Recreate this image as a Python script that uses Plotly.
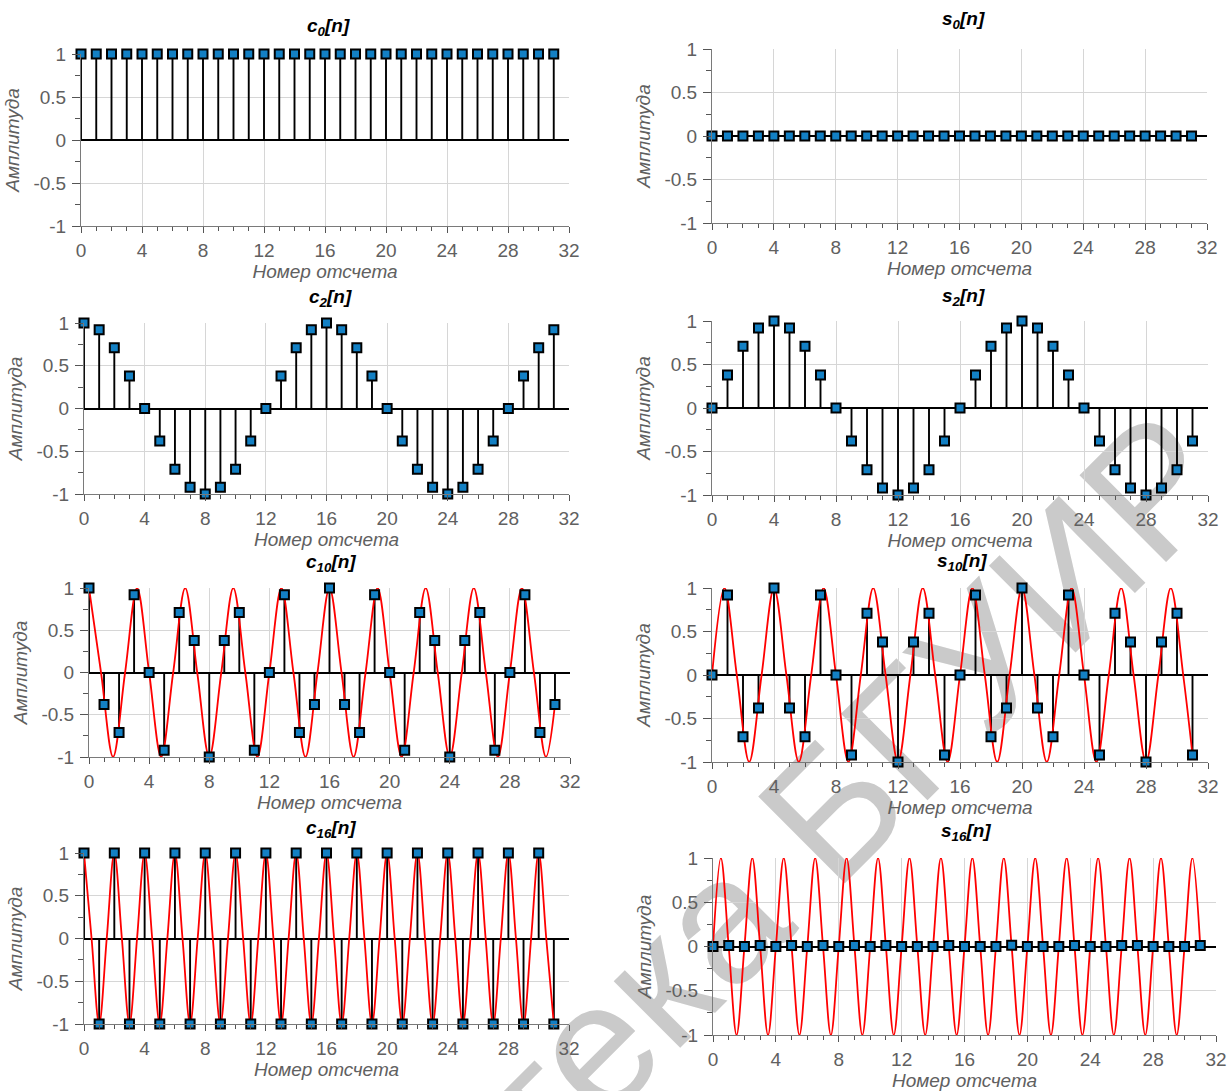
import plotly.graph_objects as go

# ---------------- data ----------------
n = [0, 1, 2, 3, 4, 5, 6, 7, 8, 9, 10, 11, 12, 13, 14, 15,
     16, 17, 18, 19, 20, 21, 22, 23, 24, 25, 26, 27, 28, 29, 30, 31]

c0 = [1, 1, 1, 1, 1, 1, 1, 1, 1, 1, 1, 1, 1, 1, 1, 1,
      1, 1, 1, 1, 1, 1, 1, 1, 1, 1, 1, 1, 1, 1, 1, 1]
s0 = [0, 0, 0, 0, 0, 0, 0, 0, 0, 0, 0, 0, 0, 0, 0, 0,
      0, 0, 0, 0, 0, 0, 0, 0, 0, 0, 0, 0, 0, 0, 0, 0]
c2 = [1, 0.92, 0.71, 0.38, 0, -0.38, -0.71, -0.92, -1, -0.92, -0.71, -0.38, 0, 0.38, 0.71, 0.92,
      1, 0.92, 0.71, 0.38, 0, -0.38, -0.71, -0.92, -1, -0.92, -0.71, -0.38, 0, 0.38, 0.71, 0.92]
s2 = [0, 0.38, 0.71, 0.92, 1, 0.92, 0.71, 0.38, 0, -0.38, -0.71, -0.92, -1, -0.92, -0.71, -0.38,
      0, 0.38, 0.71, 0.92, 1, 0.92, 0.71, 0.38, 0, -0.38, -0.71, -0.92, -1, -0.92, -0.71, -0.38]
c10 = [1, -0.38, -0.71, 0.92, 0, -0.92, 0.71, 0.38, -1, 0.38, 0.71, -0.92, 0, 0.92, -0.71, -0.38,
       1, -0.38, -0.71, 0.92, 0, -0.92, 0.71, 0.38, -1, 0.38, 0.71, -0.92, 0, 0.92, -0.71, -0.38]
s10 = [0, 0.92, -0.71, -0.38, 1, -0.38, -0.71, 0.92, 0, -0.92, 0.71, 0.38, -1, 0.38, 0.71, -0.92,
       0, 0.92, -0.71, -0.38, 1, -0.38, -0.71, 0.92, 0, -0.92, 0.71, 0.38, -1, 0.38, 0.71, -0.92]
c16 = [1, -1, 1, -1, 1, -1, 1, -1, 1, -1, 1, -1, 1, -1, 1, -1,
       1, -1, 1, -1, 1, -1, 1, -1, 1, -1, 1, -1, 1, -1, 1, -1]
s16 = [0, 0.01, 0, 0.01, 0, 0.01, 0, 0.01, 0, 0.01, 0, 0.01, 0, 0, 0, 0.01,
       0, 0, 0, 0.015, 0, 0, 0, 0.01, 0, 0, 0.01, 0.01, 0, 0, 0, 0.01]

# continuous (red) curves: read at their peaks, troughs and zero crossings
c10_curve_t = [0, 0.8, 1.6, 2.4, 3.2, 4.0, 4.8, 5.6, 6.4, 7.2, 8.0, 8.8, 9.6, 10.4, 11.2, 12.0,
               12.8, 13.6, 14.4, 15.2, 16.0, 16.8, 17.6, 18.4, 19.2, 20.0, 20.8, 21.6, 22.4,
               23.2, 24.0, 24.8, 25.6, 26.4, 27.2, 28.0, 28.8, 29.6, 30.4, 31]
c10_curve_y = [1, 0, -1, 0, 1, 0, -1, 0, 1, 0, -1, 0, 1, 0, -1, 0,
               1, 0, -1, 0, 1, 0, -1, 0, 1, 0, -1, 0, 1, 0, -1, 0,
               1, 0, -1, 0, 1, 0, -1, -0.38]
s10_curve_t = c10_curve_t
s10_curve_y = [0, 1, 0, -1, 0, 1, 0, -1, 0, 1, 0, -1, 0, 1, 0, -1,
               0, 1, 0, -1, 0, 1, 0, -1, 0, 1, 0, -1, 0, 1, 0, -1,
               0, 1, 0, -1, 0, 1, 0, -0.92]
c16_curve_t = [0, 0.5, 1, 1.5, 2, 2.5, 3, 3.5, 4, 4.5, 5, 5.5, 6, 6.5, 7, 7.5, 8, 8.5, 9, 9.5,
               10, 10.5, 11, 11.5, 12, 12.5, 13, 13.5, 14, 14.5, 15, 15.5, 16, 16.5, 17, 17.5,
               18, 18.5, 19, 19.5, 20, 20.5, 21, 21.5, 22, 22.5, 23, 23.5, 24, 24.5, 25, 25.5,
               26, 26.5, 27, 27.5, 28, 28.5, 29, 29.5, 30, 30.5, 31]
c16_curve_y = [1, 0, -1, 0, 1, 0, -1, 0, 1, 0, -1, 0, 1, 0, -1, 0,
               1, 0, -1, 0, 1, 0, -1, 0, 1, 0, -1, 0, 1, 0, -1, 0,
               1, 0, -1, 0, 1, 0, -1, 0, 1, 0, -1, 0, 1, 0, -1, 0,
               1, 0, -1, 0, 1, 0, -1, 0, 1, 0, -1, 0, 1, 0, -1]
s16_curve_t = c16_curve_t
s16_curve_y = [0, 1, 0, -1, 0, 1, 0, -1, 0, 1, 0, -1, 0, 1, 0, -1,
               0, 1, 0, -1, 0, 1, 0, -1, 0, 1, 0, -1, 0, 1, 0, -1,
               0, 1, 0, -1, 0, 1, 0, -1, 0, 1, 0, -1, 0, 1, 0, -1,
               0, 1, 0, -1, 0, 1, 0, -1, 0, 1, 0, -1, 0, 1, 0]

titles = ["c<sub>0</sub>[n]", "s<sub>0</sub>[n]", "c<sub>2</sub>[n]", "s<sub>2</sub>[n]",
          "c<sub>10</sub>[n]", "s<sub>10</sub>[n]", "c<sub>16</sub>[n]", "s<sub>16</sub>[n]"]
x_tick_vals = [0, 4, 8, 12, 16, 20, 24, 28, 32]
x_tick_text = ["0", "4", "8", "12", "16", "20", "24", "28", "32"]
y_tick_vals = [-1, -0.5, 0, 0.5, 1]
y_tick_text = ["-1", "-0.5", "0", "0.5", "1"]
x_label = "Номер отсчета"
y_label = "Амплитуда"
watermark = "Библиотека БГУИР"

samples = [c0, s0, c2, s2, c10, s10, c16, s16]
curves = [None, None, None, None,
          (c10_curve_t, c10_curve_y), (s10_curve_t, s10_curve_y),
          (c16_curve_t, c16_curve_y), (s16_curve_t, s16_curve_y)]

# ---------------- layout geometry (pixels) ----------------
W, H = 1230, 1091
# (x_left, x_right, y_top, y_bottom) of each plot area in pixels
boxes = [(81, 569, 54, 226), (712, 1207, 49, 223),
         (84, 569, 323, 494), (712, 1208, 321, 495),
         (89, 570, 588, 757), (712, 1208, 588, 762),
         (84, 569, 853, 1024), (713, 1216, 858, 1035)]
title_pos = [(328, 27), (963, 20), (330, 298), (963, 297),
             (331, 563), (962, 562), (331, 829), (966, 832)]

FONT = "Liberation Sans, Arial, sans-serif"
GRID = "#d6d6d6"
AXC = "#7a7a7a"
TXT = "#606060"

fig = go.Figure()
layout = dict(width=W, height=H, margin=dict(l=0, r=0, t=0, b=0, autoexpand=False),
              paper_bgcolor="white", plot_bgcolor="rgba(0,0,0,0)", showlegend=False,
              font=dict(family=FONT, size=19, color=TXT))
annotations = []

for i in range(8):
    k = "" if i == 0 else str(i + 1)
    xa, ya = "x" + k, "y" + k
    vals = samples[i]
    sx, sy = [], []
    for xv, yv in zip(n, vals):
        sx += [xv, xv, None]
        sy += [0, yv, None]
    fig.add_trace(go.Scatter(x=sx, y=sy, mode="lines", xaxis=xa, yaxis=ya,
                             line=dict(color="black", width=1.9),
                             hoverinfo="skip", cliponaxis=False))
    if curves[i] is not None:
        ct, cy = curves[i]
        fig.add_trace(go.Scatter(x=ct, y=cy, mode="lines", xaxis=xa, yaxis=ya,
                                 line=dict(color="#ff0000", width=1.8, shape="spline", smoothing=1.0),
                                 cliponaxis=False))
    fig.add_trace(go.Scatter(x=n, y=vals, mode="markers", xaxis=xa, yaxis=ya,
                             marker=dict(symbol="square", size=9, color="#1380c4",
                                         line=dict(color="black", width=2)),
                             cliponaxis=False))

    x0, x1, yt, yb = boxes[i]
    layout["xaxis" + k] = dict(
        domain=[x0 / W, x1 / W], anchor=ya, range=[0, 32], automargin=False,
        tickmode="array", tickvals=x_tick_vals, ticktext=x_tick_text,
        ticks="outside", ticklen=6, tickwidth=1, tickcolor="#555555",
        minor=dict(tickmode="linear", tick0=0, dtick=1, ticks="outside", ticklen=4,
                   tickcolor="#555555", showgrid=False),
        showline=True, linecolor=AXC, linewidth=1,
        showgrid=True, gridcolor=GRID, gridwidth=1, zeroline=False,
        tickfont=dict(size=19, color=TXT), ticklabelstandoff=1,
        title=dict(text="<i>" + x_label + "</i>", font=dict(size=19, color=TXT), standoff=0),
    )
    layout["yaxis" + k] = dict(
        domain=[1 - yb / H, 1 - yt / H], anchor=xa, range=[-1, 1], automargin=False,
        tickmode="array", tickvals=y_tick_vals, ticktext=y_tick_text,
        ticks="outside", ticklen=8, tickwidth=1, tickcolor="#555555",
        minor=dict(tickmode="linear", tick0=-1, dtick=0.25, ticks="outside", ticklen=5,
                   tickcolor="#555555", showgrid=False),
        showline=True, linecolor=AXC, linewidth=1,
        showgrid=True, gridcolor=GRID, gridwidth=1,
        zeroline=True, zerolinecolor="black", zerolinewidth=1.5,
        tickfont=dict(size=19, color=TXT), ticklabelstandoff=2,
        title=dict(text="<i>" + y_label + "</i>", font=dict(size=19, color=TXT), standoff=8),
    )
    tx, ty = title_pos[i]
    annotations.append(dict(text="<b><i>" + titles[i] + "</i></b>", x=tx / W, y=1 - ty / H,
                            xref="paper", yref="paper", xanchor="center", yanchor="middle",
                            showarrow=False, font=dict(family=FONT, size=19, color="black")))

layout["annotations"] = annotations
# faint library watermark, drawn underneath the data
wx, wy = 622, 995
layout["shapes"] = [dict(type="rect", xref="paper", yref="paper",
                         x0=(wx - 10) / W, x1=(wx + 10) / W,
                         y0=1 - (wy + 10) / H, y1=1 - (wy - 10) / H,
                         line=dict(width=0), fillcolor="rgba(0,0,0,0)", layer="below",
                         label=dict(text=watermark, textangle=-45,
                                    textposition="middle center",
                                    font=dict(family=FONT, size=178, color="#cacaca")))]
fig.update_layout(**layout)
fig.write_html("out.html")
